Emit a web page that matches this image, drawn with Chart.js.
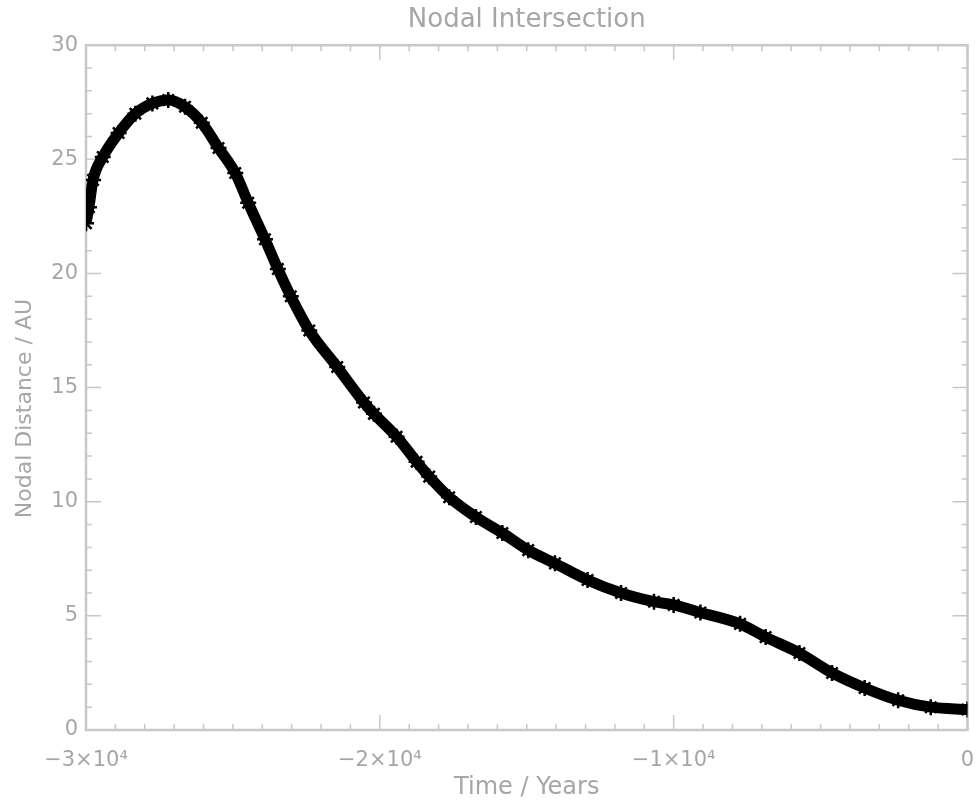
<!DOCTYPE html>
<html>
<head>
<meta charset="utf-8">
<script src="https://cdn.jsdelivr.net/npm/chart.js@4/dist/chart.umd.min.js"></script>
<style>
    html, body { margin: 0; padding: 0; background: #fff; overflow: hidden; }
</style>
</head>
<body>
<canvas class="js-chart" width="978" height="800"></canvas>
<script>
const years = [
    -30000, -29900, -29760, -29430, -28890, -28320, -27740, -27200, -26630,
    -26060, -25490, -24920, -24480, -23910, -23470, -23030, -22400, -21450,
    -20540, -20200, -19430, -18750, -18320, -17640, -16730, -15830, -14950,
    -14040, -12930, -11790, -10670, -10000, -9090, -7740, -6870, -5720,
    -4610, -3500, -2360, -1250, 0,
];
const nodalDistance = [
    22.2, 22.9, 24.1, 25.1, 26.15, 27.0, 27.45, 27.6, 27.3,
    26.6, 25.5, 24.4, 23.1, 21.5, 20.2, 19.0, 17.5, 15.9,
    14.35, 13.85, 12.85, 11.75, 11.1, 10.2, 9.33, 8.63, 7.88,
    7.3, 6.57, 6.0, 5.62, 5.48, 5.15, 4.65, 4.07, 3.37,
    2.5, 1.84, 1.3, 1.0, 0.9,
];
const xTickValues = [-30000, -20000, -10000, 0];
const xTickLabels = ['−3×10⁴', '−2×10⁴', '−1×10⁴', '0'];

const ctx = document.querySelector('.js-chart').getContext('2d');
const AXIS_GREY = '#c8c8c8';
const TEXT_GREY = '#a6a6a6';
const FONT = 'DejaVu Sans';

// IDL style frame with inward major / minor ticks on all four sides
const idlFrame = {
    id: 'idlFrame',
    beforeDatasetsDraw(chart) {
        const { ctx, chartArea: a, scales: { x, y } } = chart;
        ctx.save();
        ctx.strokeStyle = AXIS_GREY;
        ctx.lineWidth = 2.5;
        ctx.strokeRect(a.left, a.top, a.right - a.left, a.bottom - a.top);
        ctx.lineWidth = 1.5;
        ctx.beginPath();
        for (let v = x.min; v <= x.max; v += 1000) {
            const px = x.getPixelForValue(v);
            const len = v % 10000 === 0 ? 15 : 6;
            ctx.moveTo(px, a.bottom);
            ctx.lineTo(px, a.bottom - len);
            ctx.moveTo(px, a.top);
            ctx.lineTo(px, a.top + len);
        }
        for (let v = y.min; v <= y.max; v += 1) {
            const py = y.getPixelForValue(v);
            const len = v % 5 === 0 ? 15 : 6;
            ctx.moveTo(a.left, py);
            ctx.lineTo(a.left + len, py);
            ctx.moveTo(a.right, py);
            ctx.lineTo(a.right - len, py);
        }
        ctx.stroke();
        ctx.restore();
    },
};

new Chart(ctx, {
    type: 'line',
    data: {
        datasets: [
            {
                data: years.map((t, i) => ({ x: t, y: nodalDistance[i] })),
                borderColor: '#000',
                backgroundColor: '#000',
                borderWidth: 11,
                cubicInterpolationMode: 'monotone',
                pointStyle: 'star',
                pointRadius: 8,
                pointBorderWidth: 2.5,
                pointBorderColor: '#000',
            },
        ],
    },
    options: {
        responsive: false,
        animation: false,
        layout: { padding: { right: 1 } },
        plugins: {
            legend: { display: false },
            tooltip: { enabled: false },
            title: {
                display: true,
                text: 'Nodal Intersection',
                fullSize: false,
                color: TEXT_GREY,
                font: { family: FONT, size: 26, weight: 'normal' },
                padding: { top: 5, bottom: 9 },
            },
        },
        scales: {
            x: {
                type: 'linear',
                min: -30000,
                max: 0,
                grid: { display: false, drawTicks: false },
                border: { display: false },
                afterFit(scale) {
                    scale.height = 70;
                    scale.paddingRight = 0;
                    scale.paddingLeft = 0;
                },
                afterBuildTicks(scale) {
                    scale.ticks = xTickValues.map(value => ({ value }));
                },
                ticks: {
                    autoSkip: false,
                    maxRotation: 0,
                    padding: 18,
                    color: TEXT_GREY,
                    font: { family: FONT, size: 21 },
                    callback(value) {
                        const i = xTickValues.indexOf(value);
                        return i >= 0 ? xTickLabels[i] : '';
                    },
                },
                title: {
                    display: true,
                    text: 'Time / Years',
                    color: TEXT_GREY,
                    font: { family: FONT, size: 24, lineHeight: 1 },
                    padding: { top: 0, bottom: 0 },
                },
            },
            y: {
                min: 0,
                max: 30,
                grid: { display: false, drawTicks: false },
                border: { display: false },
                afterFit(scale) {
                    scale.width = 86;
                },
                ticks: {
                    stepSize: 5,
                    padding: 8,
                    color: TEXT_GREY,
                    font: { family: FONT, size: 21 },
                },
                title: {
                    display: true,
                    text: 'Nodal Distance / AU      ',
                    color: TEXT_GREY,
                    font: { family: FONT, size: 22 },
                    padding: { top: 12, bottom: 0 },
                },
            },
        },
    },
    plugins: [idlFrame],
});
</script>
</body>
</html>
